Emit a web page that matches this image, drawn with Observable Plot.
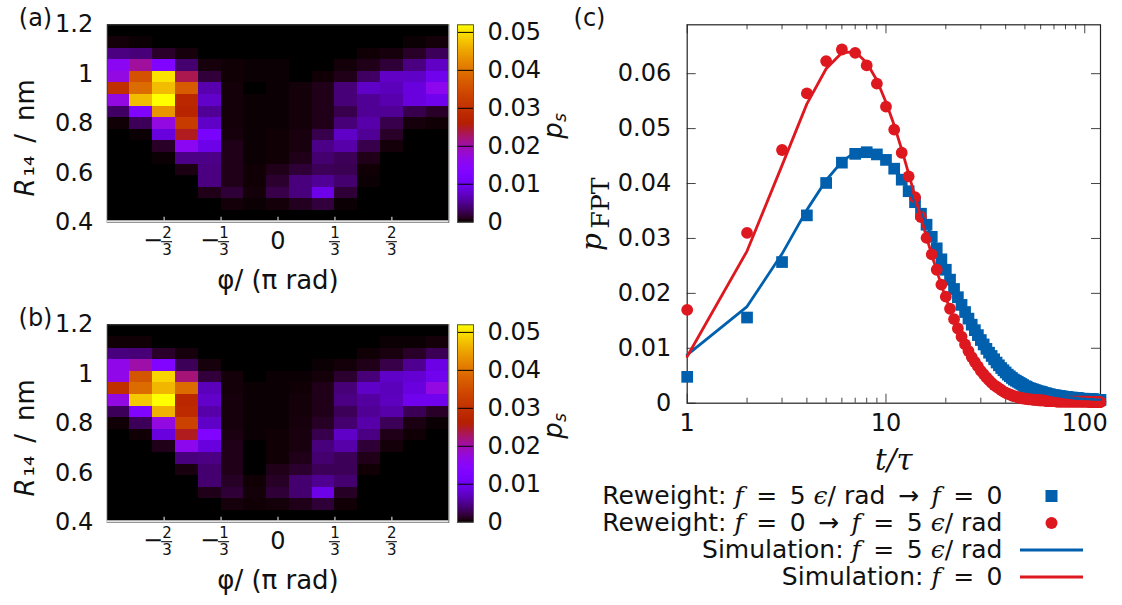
<!DOCTYPE html>
<html><head><meta charset="utf-8">
<script src="https://cdn.jsdelivr.net/npm/d3@7"></script>
<script src="https://cdn.jsdelivr.net/npm/@observablehq/plot@0.6"></script>
<style>
body{margin:0;background:#fff;}
#root{position:relative;width:1122px;height:605px;overflow:hidden;font-family:'DejaVu Sans',sans-serif;color:#111;}
#root svg{position:absolute;max-width:none;}
.leg{position:absolute;white-space:nowrap;font-size:25px;line-height:30px;text-align:right;}
.leg i{font-family:'DejaVu Serif',serif;font-size:25px;}
</style></head><body><div id="root"></div><script>
// ---------------- DATA ----------------
// heat maps: rows from R = 1.2 (top) down to 0.4, columns from phi = -pi to +pi
const psA = [
 [0,0,0,0,0,0,0,0,0,0,0,0,0,0,0],
 [0.0003,0.0001,0,0,0,0,0,0,0,0,0,0,0,0.0001,0.0003],
 [0.0044,0.0040,0.0014,0.0004,0,0,0,0,0,0,0,0.0002,0.0004,0.0013,0.0030],
 [0.0155,0.0205,0.0130,0.0037,0.0004,0.0002,0.0001,0.0001,0,0,0.0003,0.0008,0.0018,0.0044,0.0073],
 [0.0170,0.0355,0.0500,0.0234,0.0019,0.0002,0.0001,0.0001,0,0.0002,0.0008,0.0033,0.0073,0.0074,0.0100],
 [0.0296,0.0390,0.0470,0.0370,0.0062,0.0003,0,0.0001,0.0003,0.0008,0.0040,0.0074,0.0068,0.0088,0.0160],
 [0.0170,0.0470,0.0520,0.0280,0.0075,0.0003,0.0001,0.0001,0.0003,0.0008,0.0040,0.0052,0.0062,0.0088,0.0100],
 [0.0033,0.0130,0.0435,0.0270,0.0052,0.0003,0.0001,0.0001,0.0003,0.0008,0.0025,0.0052,0.0052,0.0025,0.0013],
 [0.0002,0.0029,0.0170,0.0320,0.0074,0.0003,0.0001,0.0001,0.0003,0.0008,0.0040,0.0060,0.0025,0.0004,0.0002],
 [0,0.0001,0.0088,0.0250,0.0118,0.0004,0.0001,0.0002,0.0005,0.0025,0.0074,0.0052,0.0013,0,0],
 [0,0,0.0013,0.0155,0.0095,0.0008,0.0001,0.0002,0.0005,0.0046,0.0060,0.0025,0.0003,0,0],
 [0,0,0.0001,0.0046,0.0046,0.0008,0.0001,0.0002,0.0008,0.0037,0.0029,0.0008,0,0,0],
 [0,0,0,0.0006,0.0044,0.0008,0.0002,0.0008,0.0018,0.0029,0.0027,0.0002,0,0,0],
 [0,0,0,0,0.0044,0.0008,0.0002,0.0015,0.0042,0.0052,0.0037,0.0001,0,0,0],
 [0,0,0,0,0.0008,0.0018,0.0003,0.0024,0.0042,0.0095,0.0018,0,0,0,0],
 [0,0,0,0,0,0.0003,0.0001,0.0003,0.0010,0.0020,0.0001,0,0,0,0],
 [0,0,0,0,0,0,0,0,0,0,0,0,0,0,0]
];
const psB = [
 [0,0,0,0,0,0,0,0,0,0,0,0,0,0,0],
 [0.0002,0.0002,0,0,0,0,0,0,0,0,0,0,0.0001,0.0001,0.0003],
 [0.0043,0.0040,0.0014,0.0004,0,0,0,0,0,0,0,0.0002,0.0005,0.0013,0.0028],
 [0.0165,0.0200,0.0130,0.0029,0.0004,0,0,0,0,0.0001,0.0003,0.0008,0.0024,0.0050,0.0093],
 [0.0165,0.0360,0.0490,0.0220,0.0019,0.0003,0,0.0001,0.0001,0.0003,0.0015,0.0040,0.0074,0.0080,0.0100],
 [0.0296,0.0390,0.0465,0.0390,0.0068,0.0003,0.0001,0.0001,0.0002,0.0008,0.0040,0.0074,0.0068,0.0088,0.0170],
 [0.0170,0.0480,0.0520,0.0280,0.0075,0.0004,0.0001,0.0001,0.0003,0.0008,0.0045,0.0056,0.0070,0.0100,0.0100],
 [0.0029,0.0130,0.0460,0.0285,0.0060,0.0004,0.0001,0.0001,0.0003,0.0008,0.0029,0.0052,0.0060,0.0028,0.0013],
 [0.0002,0.0029,0.0170,0.0330,0.0074,0.0004,0.0001,0.0001,0.0004,0.0012,0.0037,0.0060,0.0029,0.0006,0.0001],
 [0,0.0002,0.0088,0.0250,0.0130,0.0006,0.0001,0.0002,0.0005,0.0025,0.0074,0.0045,0.0008,0.0002,0],
 [0,0,0.0008,0.0160,0.0088,0.0008,0,0.0002,0.0005,0.0042,0.0060,0.0018,0.0003,0,0],
 [0,0,0,0.0042,0.0045,0.0008,0,0.0002,0.0008,0.0037,0.0029,0.0008,0,0,0],
 [0,0,0,0.0005,0.0037,0.0008,0,0.0008,0.0015,0.0029,0.0029,0.0002,0,0,0],
 [0,0,0,0,0.0037,0.0012,0.0002,0.0012,0.0037,0.0050,0.0037,0,0,0,0],
 [0,0,0,0,0.0008,0.0018,0.0003,0.0018,0.0037,0.0095,0.0012,0,0,0,0],
 [0,0,0,0,0,0.0004,0.0002,0.0003,0.0008,0.0018,0.0002,0,0,0,0],
 [0,0,0,0,0,0,0,0,0,0,0,0,0,0,0]
];
const phiRange = [-1, 1];          // in units of pi
const rRange = [0.4, 1.2];          // nm
const rTicks = [0.4, 0.6, 0.8, 1, 1.2];
const phiTickValues = [-2/3, -1/3, 0, 1/3, 2/3];
const phiTickLabels = ["−2/3", "−1/3", "0", "1/3", "2/3"];
const cbMax = 0.052;
const cbTicks = [0, 0.01, 0.02, 0.03, 0.04, 0.05];

// first passage time distributions, t = 1 .. 120 (units of tau)
const blueReweight = [0.0048,0.0156,0.0257,0.0342,0.0401,0.0438,0.0454,0.0457,0.0453,0.0443,
 0.0427,0.0407,0.0386,0.0366,0.0345,0.0325,0.0303,0.0282,0.0262,0.0243,
 0.0225,0.0208,0.0193,0.0179,0.0166,0.0154,0.0143,0.0133,0.0124,0.0115,
 0.0107,0.0099,0.0092,0.0086,0.0080,0.0074,0.0069,0.0064,0.0060,0.0056,
 0.0052,0.0049,0.0046,0.0043,0.0041,0.0039,0.0037,0.0035,0.0033,0.0031,
 0.0030,0.0028,0.0027,0.0026,0.0025,0.0024,0.0023,0.0022,0.0021,0.0021,
 0.0020,0.0019,0.0018,0.0018,0.0017,0.0016,0.0016,0.0015,0.0015,0.0014,
 0.0014,0.0014,0.0013,0.0013,0.0013,0.0012,0.0012,0.0012,0.0011,0.0011,
 0.0011,0.0011,0.0010,0.0010,0.0010,0.0010,0.0010,0.0009,0.0009,0.0009,
 0.0009,0.0009,0.0009,0.0008,0.0008,0.0008,0.0008,0.0008,0.0008,0.0008,
 0.0008,0.0007,0.0007,0.0007,0.0007,0.0007,0.0007,0.0007,0.0007,0.0007,
 0.0007,0.0006,0.0006,0.0006,0.0006,0.0006,0.0006,0.0006,0.0006,0.0006];
const redReweight = [0.0170,0.0310,0.0461,0.0564,0.0623,0.0644,0.0638,0.0615,0.0582,0.0540,
 0.0498,0.0456,0.0413,0.0375,0.0339,0.0301,0.0271,0.0243,0.0216,0.0194,
 0.0172,0.0153,0.0136,0.0121,0.0107,0.0095,0.0084,0.0075,0.0067,0.0059,
 0.0053,0.0047,0.0042,0.0037,0.0033,0.0030,0.0027,0.0024,0.0021,0.0019,
 0.0017,0.0016,0.0014,0.0013,0.0012,0.0011,0.0010,0.0009,0.0009,0.0008,
 0.0008,0.0007,0.0007,0.0007,0.0006,0.0006,0.0006,0.0006,0.0005,0.0005,
 0.0005,0.0005,0.0005,0.0004,0.0004,0.0004,0.0004,0.0004,0.0004,0.0004,
 0.0004,0.0003,0.0003,0.0003,0.0003,0.0003,0.0003,0.0003,0.0003,0.0003,
 0.0003,0.0003,0.0003,0.0003,0.0003,0.0003,0.0003,0.0003,0.0003,0.0003,
 0.0003,0.0003,0.0003,0.0003,0.0003,0.0003,0.0003,0.0003,0.0003,0.0003,
 0.0003,0.0003,0.0003,0.0003,0.0003,0.0002,0.0002,0.0002,0.0002,0.0002,
 0.0002,0.0002,0.0002,0.0002,0.0002,0.0002,0.0002,0.0002,0.0002,0.0002];
const blueSimulation = [0.0088,0.0176,0.0272,0.0352,0.0406,0.0440,0.0457,0.0461,0.0456,0.0445,
 0.0428,0.0409,0.0388,0.0367,0.0346,0.0325,0.0304,0.0284,0.0264,0.0245,
 0.0226,0.0209,0.0194,0.0180,0.0167,0.0155,0.0144,0.0134,0.0124,0.0115,
 0.0107,0.0099,0.0092,0.0086,0.0080,0.0074,0.0069,0.0064,0.0060,0.0056,
 0.0052,0.0049,0.0046,0.0043,0.0041,0.0039,0.0037,0.0035,0.0033,0.0031,
 0.0030,0.0028,0.0027,0.0026,0.0025,0.0024,0.0023,0.0022,0.0021,0.0021,
 0.0020,0.0019,0.0018,0.0018,0.0017,0.0016,0.0016,0.0015,0.0015,0.0014,
 0.0014,0.0014,0.0013,0.0013,0.0013,0.0012,0.0012,0.0012,0.0011,0.0011,
 0.0011,0.0011,0.0010,0.0010,0.0010,0.0010,0.0010,0.0009,0.0009,0.0009,
 0.0009,0.0009,0.0009,0.0008,0.0008,0.0008,0.0008,0.0008,0.0008,0.0008,
 0.0008,0.0007,0.0007,0.0007,0.0007,0.0007,0.0007,0.0007,0.0007,0.0007,
 0.0007,0.0006,0.0006,0.0006,0.0006,0.0006,0.0006,0.0006,0.0006,0.0006];
const redSimulation = [0.0085,0.0277,0.0433,0.0545,0.0609,0.0638,0.0640,0.0620,0.0588,0.0548,
 0.0506,0.0462,0.0418,0.0376,0.0338,0.0302,0.0270,0.0241,0.0215,0.0192,
 0.0171,0.0152,0.0135,0.0120,0.0107,0.0095,0.0084,0.0075,0.0067,0.0059,
 0.0053,0.0047,0.0042,0.0037,0.0033,0.0030,0.0027,0.0024,0.0021,0.0019,
 0.0017,0.0016,0.0014,0.0013,0.0012,0.0011,0.0010,0.0009,0.0009,0.0008,
 0.0008,0.0007,0.0007,0.0007,0.0006,0.0006,0.0006,0.0006,0.0005,0.0005,
 0.0005,0.0005,0.0005,0.0004,0.0004,0.0004,0.0004,0.0004,0.0004,0.0004,
 0.0004,0.0003,0.0003,0.0003,0.0003,0.0003,0.0003,0.0003,0.0003,0.0003,
 0.0003,0.0003,0.0003,0.0003,0.0003,0.0003,0.0003,0.0003,0.0003,0.0003,
 0.0003,0.0003,0.0003,0.0003,0.0003,0.0003,0.0003,0.0003,0.0003,0.0003,
 0.0003,0.0003,0.0003,0.0003,0.0003,0.0002,0.0002,0.0002,0.0002,0.0002,
 0.0002,0.0002,0.0002,0.0002,0.0002,0.0002,0.0002,0.0002,0.0002,0.0002];
const tMajor = [1, 10, 100];
const tMinor = [2,3,4,5,6,7,8,9,20,30,40,50,60,70,80,90];
const tDomain = [1, 120];
const pTicks = [0, 0.01, 0.02, 0.03, 0.04, 0.05, 0.06];
const pDomain = [0, 0.0689];
const EN = "\u2002";
const legendLabels = [
  `Reweight: <i>f</i>${EN}=${EN}5 <i>ϵ</i>/ rad${EN}→${EN}<i>f</i>${EN}=${EN}0`,
  `Reweight: <i>f</i>${EN}=${EN}0${EN}→${EN}<i>f</i>${EN}=${EN}5 <i>ϵ</i>/ rad`,
  `Simulation: <i>f</i>${EN}=${EN}5 <i>ϵ</i>/ rad`,
  `Simulation: <i>f</i>${EN}=${EN}0`
];

// ---------------- STYLE ----------------
const FONT = "'DejaVu Sans',sans-serif";
const SERIF = "'DejaVu Serif',serif";
const BLUE = "#0060ad", RED = "#dd181f", INK = "#111";
const TICK_FS = 24;
const root = document.getElementById("root");
function place(node, left, top) { node.style.left = left + "px"; node.style.top = top + "px"; root.appendChild(node); }
// gnuplot default palette (rgbformulae 7,5,15)
function gnuplotPalette(t) {
  t = Math.max(0, Math.min(1, t));
  const r = Math.sqrt(t), g = t * t * t, b = Math.max(0, Math.sin(2 * Math.PI * t));
  return d3.rgb(255 * r, 255 * g, 255 * b).formatHex();
}
const colorScale = {type: "linear", domain: [0, cbMax], interpolate: gnuplotPalette, clamp: true};
const baseStyle = {background: "transparent", fontFamily: FONT, fontSize: TICK_FS + "px", color: INK, overflow: "visible"};
const MID = {textAnchor: "middle", lineAnchor: "middle"};

// ---------------- HEAT PANELS ----------------
function heatPanel(matrix, tag, top) {
  const W = 470, H = 300, L = 106.7, R = 448.3, T = 24.3, B = 221.7;
  const nr = matrix.length, nc = matrix[0].length;
  const dphi = (phiRange[1] - phiRange[0]) / nc, dr = (rRange[1] - rRange[0]) / nr;
  const cells = [];
  matrix.forEach((row, i) => row.forEach((v, j) => cells.push({
    x1: phiRange[0] + j * dphi, x2: phiRange[0] + (j + 1) * dphi,
    y1: rRange[1] - (i + 1) * dr, y2: rRange[1] - i * dr, v})));
  const pxPhi = (phiRange[1] - phiRange[0]) / (R - L);
  const ticks = phiTickValues.map((v, i) => {
    const s = phiTickLabels[i], neg = s.startsWith("−"), parts = s.replace("−", "").split("/");
    return {v, neg, whole: parts.length === 1 ? parts[0] : null, num: parts[0], den: parts[1], c: v + (neg ? 3 * pxPhi : 0)};
  });
  const fr = ticks.filter(d => d.whole === null);
  const svg = Plot.plot({
    width: W, height: H, marginLeft: L, marginRight: W - R, marginTop: T, marginBottom: H - B,
    x: {domain: phiRange, axis: null},
    y: {domain: rRange},
    color: colorScale,
    style: baseStyle,
    marks: [
      Plot.rect(cells, {x1: "x1", x2: "x2", y1: "y1", y2: "y2", fill: "v", shapeRendering: "crispEdges"}),
      Plot.frame({stroke: "#444", strokeWidth: 1}),
      Plot.ruleY([rRange[0]], {stroke: "#e4e4e4", strokeWidth: 2, dy: -1}),
      Plot.tickX(phiTickValues, {x: d => d, stroke: "#cfcfcf", strokeWidth: 1.2, insetTop: (B - T) - 5}),
      Plot.axisY({ticks: rTicks, tickSize: 0, tickPadding: 14, tickFormat: d => String(+d.toFixed(1)), label: null, fontSize: TICK_FS}),
      Plot.text(fr, {x: "c", text: "num", frameAnchor: "bottom", dy: 11, fontSize: 15, ...MID}),
      Plot.text(fr, {x: "c", text: "den", frameAnchor: "bottom", dy: 28, fontSize: 15, ...MID}),
      Plot.ruleY(fr, {y: () => rRange[0], x1: d => d.c - 5.5 * pxPhi, x2: d => d.c + 5.5 * pxPhi, dy: 19.5, stroke: INK, strokeWidth: 1.1}),
      Plot.text(fr.filter(d => d.neg), {x: "v", text: () => "−", frameAnchor: "bottom", dx: -11, dy: 18.5, fontSize: TICK_FS, ...MID}),
      Plot.text(ticks.filter(d => d.whole !== null), {x: "v", text: "whole", frameAnchor: "bottom", dy: 19.5, fontSize: TICK_FS, ...MID}),
      Plot.text(["φ/\u00a0(π\u00a0rad)"], {frameAnchor: "bottom", dy: 58.5, fontSize: 26, ...MID}),
      Plot.text(["R"], {frameAnchor: "left", rotate: -90, dx: -82, dy: 55, textAnchor: "end", lineAnchor: "middle", fontStyle: "italic", fontSize: 26}),
      Plot.text(["₁₄\u2002/\u2002nm"], {frameAnchor: "left", rotate: -90, dx: -82, dy: 53, textAnchor: "start", lineAnchor: "middle", fontSize: 26}),
      Plot.text([tag], {frameAnchor: "top-left", dx: -71.7, dy: -6, fontSize: TICK_FS, ...MID})
    ]
  });
  place(svg, 0, top);
  // colour bar
  const CW = 130, CL = 457 - 440, CR = 473 - 440;
  const step = cbMax / 260;
  const steps = d3.range(0, cbMax, step);
  const cb = Plot.plot({
    width: CW, height: H, marginLeft: CL, marginRight: CW - CR, marginTop: T, marginBottom: H - B,
    x: {domain: [0, 1], axis: null},
    y: {domain: [0, cbMax]},
    color: colorScale,
    style: baseStyle,
    marks: [
      Plot.rect(steps, {x1: () => 0, x2: () => 1, y1: d => d, y2: d => Math.min(cbMax, d + step), fill: d => d + step / 2, shapeRendering: "crispEdges"}),
      Plot.ruleY(cbTicks, {stroke: "#000", strokeWidth: 1}),
      Plot.frame({stroke: "#555"}),
      Plot.axisY({anchor: "right", ticks: cbTicks, tickSize: 0, tickPadding: 14, tickFormat: d => d === 0 ? "0" : d.toFixed(2), label: null, fontSize: TICK_FS}),
      Plot.text(["p"], {frameAnchor: "right", rotate: -90, dx: 80, dy: 7, fontStyle: "italic", fontSize: 26, ...MID}),
      Plot.text(["s"], {frameAnchor: "right", rotate: -90, dx: 87, dy: -6, fontStyle: "italic", fontSize: 17, ...MID})
    ]
  });
  place(cb, 440, top);
}
heatPanel(psA, "(a)", 0);
heatPanel(psB, "(b)", 300);

// ---------------- FPT PANEL ----------------
(function () {
  const W = 562, H = 480, L = 126.7, R = 1100 - 560, T = 24.3, B = 402.7;
  const fh = B - T, fw = R - L;
  const asRows = arr => arr.map((v, i) => ({t: i + 1, v}));
  const svg = Plot.plot({
    width: W, height: H, marginLeft: L, marginRight: W - R, marginTop: T, marginBottom: H - B,
    x: {type: "log", domain: tDomain},
    y: {domain: pDomain},
    style: baseStyle,
    marks: [
      Plot.tickX(tMajor, {x: d => d, stroke: "#444", insetTop: fh - 9}),
      Plot.tickX(tMajor, {x: d => d, stroke: "#444", insetBottom: fh - 9}),
      Plot.tickX(tMinor, {x: d => d, stroke: "#444", insetTop: fh - 5}),
      Plot.tickX(tMinor, {x: d => d, stroke: "#444", insetBottom: fh - 5}),
      Plot.tickY(pTicks, {y: d => d, stroke: "#444", insetRight: fw - 9}),
      Plot.tickY(pTicks, {y: d => d, stroke: "#444", insetLeft: fw - 9}),
      Plot.frame({stroke: "#222", strokeWidth: 1.2}),
      Plot.axisX({ticks: tMajor, tickSize: 0, tickPadding: 11, tickFormat: d => String(d), label: null, fontSize: TICK_FS}),
      Plot.axisY({ticks: pTicks, tickSize: 0, tickPadding: 16, tickFormat: d => d === 0 ? "0" : d.toFixed(2), label: null, fontSize: TICK_FS}),
      Plot.dot(asRows(blueReweight), {x: "t", y: "v", symbol: "square", r: 6.6, fill: BLUE}),
      Plot.dot(asRows(redReweight), {x: "t", y: "v", symbol: "circle", r: 5.9, fill: RED}),
      Plot.line(asRows(blueSimulation), {x: "t", y: "v", stroke: BLUE, strokeWidth: 2.8}),
      Plot.line(asRows(redSimulation), {x: "t", y: "v", stroke: RED, strokeWidth: 2.8}),
      Plot.text(["t/τ"], {frameAnchor: "bottom", dy: 57.5, fontFamily: SERIF, fontStyle: "italic", fontSize: 29, ...MID}),
      Plot.text(["p"], {frameAnchor: "left", rotate: -90, dx: -95, dy: 28, fontFamily: SERIF, fontStyle: "italic", fontSize: 28, ...MID}),
      Plot.text(["FPT"], {frameAnchor: "left", rotate: -90, dx: -86, dy: -11, fontFamily: SERIF, fontSize: 25, ...MID}),
      Plot.text(["(c)"], {frameAnchor: "top-left", dx: -97.7, dy: -6, fontSize: TICK_FS, ...MID})
    ]
  });
  place(svg, 560, 0);
})();

// ---------------- LEGEND ----------------
const legendY = [496, 523, 550, 577];
const legendKinds = ["square", "circle", "line", "line"];
const legendColors = [BLUE, RED, BLUE, RED];
legendLabels.forEach((lab, i) => {
  const d = document.createElement("div");
  d.className = "leg";
  d.innerHTML = lab;
  d.style.right = (1122 - 1002.5) + "px";
  d.style.top = (legendY[i] - 15) + "px";
  root.appendChild(d);
  const s = d3.create("svg").attr("width", 70).attr("height", 20);
  if (legendKinds[i] === "line") s.append("line").attr("x1", 1).attr("x2", 64).attr("y1", 10).attr("y2", 10).attr("stroke", legendColors[i]).attr("stroke-width", 3);
  else if (legendKinds[i] === "square") s.append("rect").attr("x", 32.5 - 6).attr("y", 4).attr("width", 12).attr("height", 12).attr("fill", legendColors[i]);
  else s.append("circle").attr("cx", 32.5).attr("cy", 10).attr("r", 6).attr("fill", legendColors[i]);
  const n = s.node();
  n.style.left = "1019px"; n.style.top = (legendY[i] - 10) + "px";
  root.appendChild(n);
});
</script></body></html>
